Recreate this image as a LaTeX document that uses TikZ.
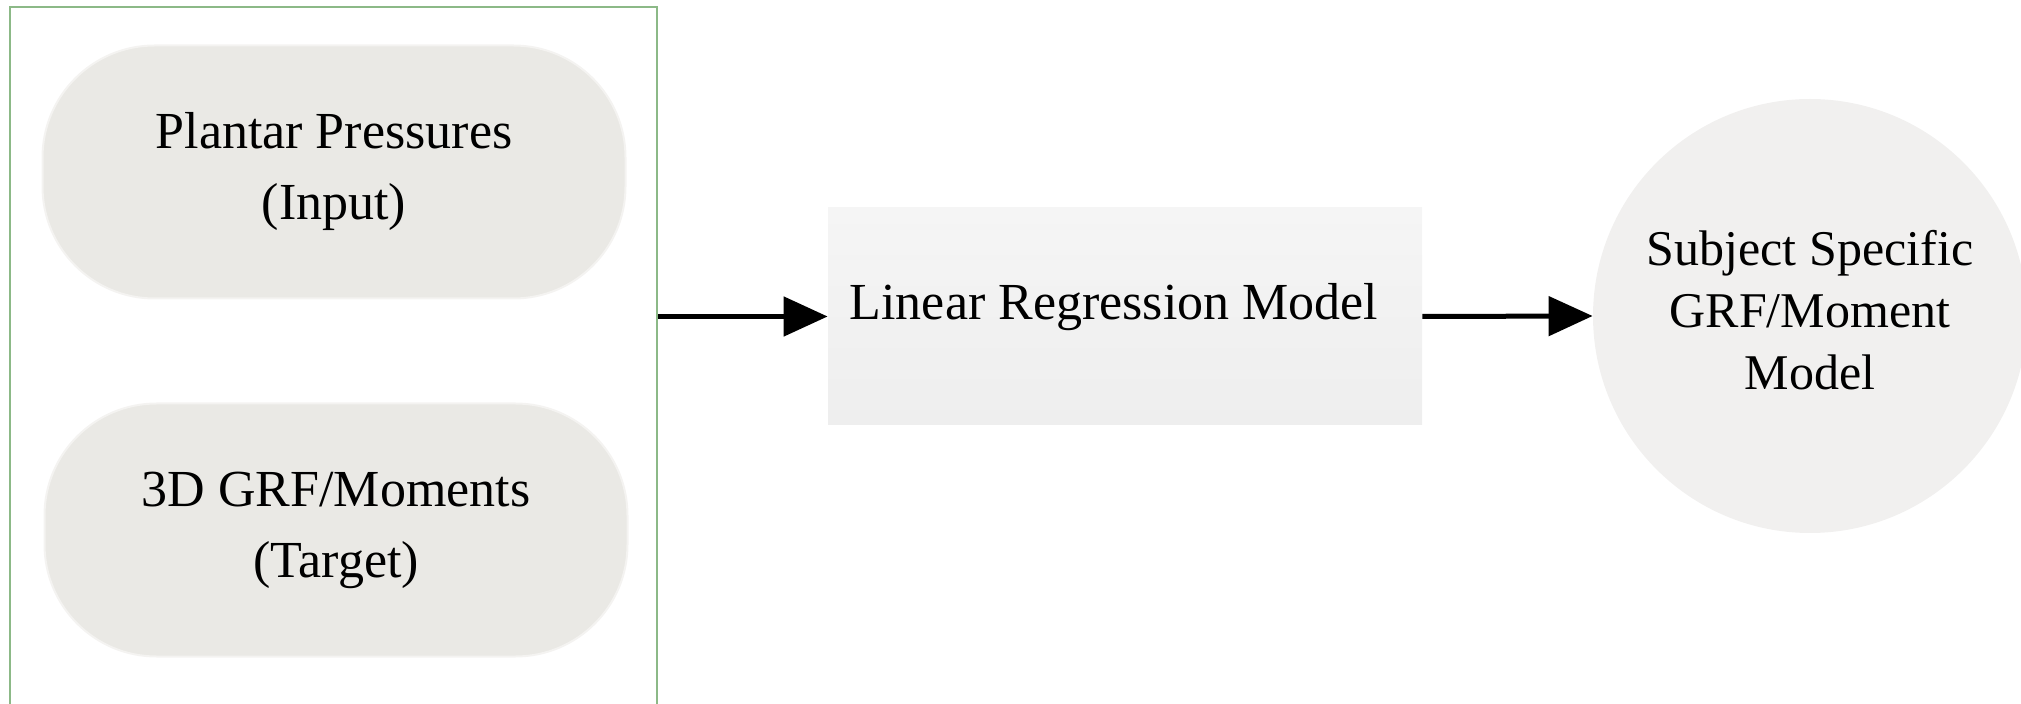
\documentclass[tikz,border=0pt]{standalone}
\usepackage{fontspec}
\setmainfont{Liberation Serif}
\usetikzlibrary{arrows.meta}
\definecolor{pillgray}{RGB}{234,233,229}
\definecolor{pilledge}{RGB}{244,243,241}
\definecolor{circgray}{RGB}{241,240,239}
\definecolor{framegreen}{RGB}{140,185,135}
\definecolor{recttop}{RGB}{245,245,245}
\definecolor{rectbot}{RGB}{238,238,238}
\begin{document}
\begin{tikzpicture}[x=0.5pt,y=-0.5pt,
  frame/.style={draw=framegreen, line width=1.25pt, minimum width=323.5pt, minimum height=356.5pt, inner sep=0pt},
  pill/.style={fill=pillgray, draw=pilledge, line width=1pt, rounded corners=56pt,
    minimum width=291.5pt, minimum height=126.5pt, inner sep=0pt,
    align=center, font=\fontsize{26}{35.5}\selectfont},
  lrbox/.style={top color=recttop, bottom color=rectbot, minimum width=297pt, minimum height=108.5pt, inner sep=0pt},
  lrtext/.style={font=\fontsize{26}{34}\selectfont, inner sep=0pt, anchor=base},
  outcirc/.style={circle, fill=circgray, minimum size=217pt, inner sep=0pt},
  circtext/.style={align=center, font=\fontsize{25}{31}\selectfont, inner sep=0pt},
  arr/.style={line width=2.5pt, -{Triangle[length=22pt,width=19.5pt]}},
]
\useasboundingbox (0,0) rectangle (2021,704);
\clip (0,0) rectangle (2021,704);
% input frame
\node[frame] (frm) at (333.5,363.5) {};
% pills
\node[pill] (pp) at (334,172) {Plantar Pressures\\(Input)};
\node[pill] (grf) at (336,530) {3D GRF/Moments\\(Target)};
% model box
\node[lrbox] (lr) at (1125,316.5) {};
\node[lrtext] (lrt) at (1114,320) {Linear Regression Model};
% output circle
\node[outcirc] (ssm) at (1810,316) {};
\node[circtext] (ssmt) at (1810,310) {Subject Specific\\GRF/Moment\\Model};
% connectors
\draw[arr] (frm.east |- lr.west) -- (lr.west);
\draw[arr] (lr.east) -- (ssm.west);
\end{tikzpicture}
\end{document}
